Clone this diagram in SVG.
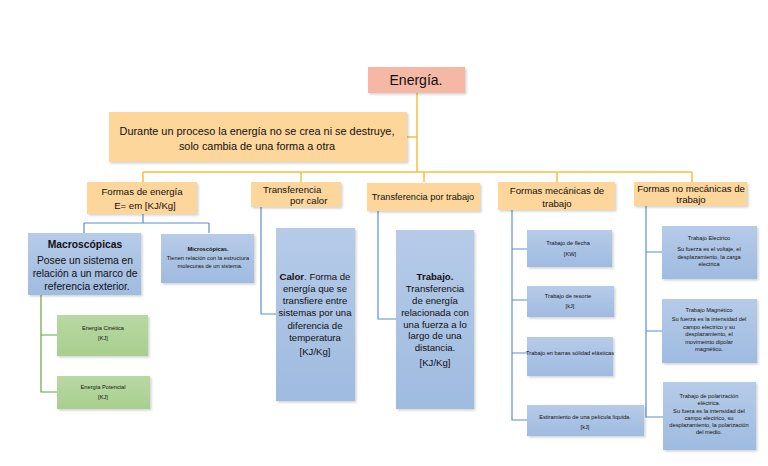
<svg xmlns="http://www.w3.org/2000/svg" width="768" height="466" viewBox="0 0 768 466">
<defs>
<linearGradient id="gb" x1="0" y1="0" x2="0" y2="1"><stop offset="0" stop-color="#b6cbe8"/><stop offset="1" stop-color="#9fbbe0"/></linearGradient>
<linearGradient id="gg" x1="0" y1="0" x2="0" y2="1"><stop offset="0" stop-color="#b9d8a4"/><stop offset="1" stop-color="#a8cf8e"/></linearGradient>
<filter id="sh" x="-10%" y="-10%" width="130%" height="130%"><feDropShadow dx="1.5" dy="1.5" stdDeviation="1.2" flood-color="#000" flood-opacity="0.18"/></filter>
<style>
text{font-family:"Liberation Sans",Arial,sans-serif;fill:#111;text-anchor:middle}
.pk{fill:#f4b8a5;filter:url(#sh)}
.or{fill:#fdd69b;filter:url(#sh)}
.bl{fill:url(#gb);filter:url(#sh)}
.gr{fill:url(#gg);filter:url(#sh)}
.ly{stroke:#f2c043;stroke-width:1.5;fill:none}
.lb{stroke:#5b8ed0;stroke-width:1.2;fill:none}
.lg{stroke:#6aa443;stroke-width:1.2;fill:none}
.t10{font-size:9.6px}
.tm{font-size:10.3px}
.s6{font-size:5.7px}
.b{font-weight:bold}
</style>
</defs>
<rect width="768" height="466" fill="#fff"/>
<g id="connectors">
<path class="ly" d="M417 93V172M407 137H417M143 172H692M143 172V182M301 172V182M424 172V182M557 172V182M692 172V182"/>
<path class="lb" d="M143 214V223M84 223H209M84 223V233M209 223V233"/>
<path class="lg" d="M41 295V392H57M41 335H57"/>
<path class="lb" d="M261 207V314H276"/>
<path class="lb" d="M378 211V319H396"/>
<path class="lb" d="M512 210V420H527M512 249H527M512 300H527M512 353H527"/>
<path class="lb" d="M646 206V417H663M646 252H662M646 331H662"/>
</g>
<g id="energia"><rect class="pk" x="368" y="67" width="97" height="26"/><text x="416" y="85" style="font-size:14px">Energía.</text></g>
<g id="ley"><rect class="or" x="109" y="112" width="298" height="50"/>
<text x="257" y="135" style="font-size:10.9px">Durante un proceso la energía no se crea ni se destruye,</text>
<text x="257" y="150" style="font-size:10.9px">solo cambia de una forma a otra</text></g>
<g id="formas-energia"><rect class="or" x="87" y="182" width="110" height="32"/>
<text class="t10" x="142" y="195">Formas de energía</text><text class="t10" x="145" y="209">E= em [KJ/Kg]</text></g>
<g id="transf-calor"><rect class="or" x="251" y="182" width="90" height="25"/>
<text class="t10" x="263" y="193" style="text-anchor:start">Transferencia</text><text class="t10" x="290" y="204" style="text-anchor:start">por  calor</text></g>
<g id="transf-trabajo"><rect class="or" x="367" y="183" width="113" height="28"/>
<text class="t10" x="423" y="200" style="font-size:9.2px">Transferencia por trabajo</text></g>
<g id="formas-mecanicas"><rect class="or" x="498" y="182" width="117" height="28"/>
<text class="t10" x="557" y="194">Formas mecánicas de</text><text class="t10" x="557" y="207">trabajo</text></g>
<g id="formas-no-mecanicas"><rect class="or" x="634" y="182" width="113" height="24"/>
<text class="t10" x="691" y="192">Formas no mecánicas de</text><text class="t10" x="691" y="203">trabajo</text></g>
<g id="macro"><rect class="bl" x="28" y="233" width="113" height="62"/>
<text x="85" y="248" class="tm b">Macroscópicas</text>
<text x="85" y="264" class="tm">Posee un sistema en</text>
<text x="85" y="277" class="tm">relación a un marco de</text>
<text x="87" y="290" class="tm">referencia exterior.</text></g>
<g id="micro"><rect class="bl" x="161" y="234" width="93" height="49"/>
<text class="s6 b" x="208" y="251">Microscópicas.</text>
<text class="s6" x="208" y="260">Tienen relación con la estructura</text>
<text class="s6" x="210" y="268">molecuras de un sistema.</text></g>
<g id="cinetica"><rect class="gr" x="57" y="315" width="91" height="41"/>
<text class="s6" x="103" y="330">Energía Cinética</text><text class="s6" x="103" y="340">[KJ]</text></g>
<g id="potencial"><rect class="gr" x="57" y="376" width="93" height="33"/>
<text class="s6" x="103" y="389">Energía Potencial</text><text class="s6" x="103" y="399">[KJ]</text></g>
<g id="calor"><rect class="bl" x="276" y="228" width="79" height="173"/>
<text class="t10" x="315" y="280"><tspan class="b">Calor</tspan>. Forma de</text>
<text class="t10" x="315" y="292">energía que se</text>
<text class="t10" x="315" y="304">transfiere entre</text>
<text class="t10" x="315" y="316">sistemas por una</text>
<text class="t10" x="315" y="329">diferencia de</text>
<text class="t10" x="315" y="341">temperatura</text>
<text class="t10" x="315" y="355">[KJ/Kg]</text></g>
<g id="trabajo"><rect class="bl" x="396" y="230" width="78" height="179"/>
<text class="t10 b" x="435" y="280">Trabajo.</text>
<text class="t10" x="435" y="292">Transferencia</text>
<text class="t10" x="435" y="304">de  energía</text>
<text class="t10" x="435" y="316">relacionada con</text>
<text class="t10" x="435" y="328">una fuerza a lo</text>
<text class="t10" x="435" y="339">largo de una</text>
<text class="t10" x="435" y="351">distancia.</text>
<text class="t10" x="435" y="366">[KJ/Kg]</text></g>
<g id="flecha"><rect class="bl" x="527" y="230" width="85" height="37"/>
<text class="s6" x="568" y="245">Trabajo de flecha</text><text class="s6" x="570" y="256">[KW]</text></g>
<g id="resorte"><rect class="bl" x="527" y="286" width="87" height="31"/>
<text class="s6" x="568" y="298">Trabajo de resorte</text><text class="s6" x="570" y="308">[kJ]</text></g>
<g id="barras"><rect class="bl" x="527" y="337" width="86" height="39"/>
<text class="s6" x="570" y="355">Trabajo en barras sólidad elásticas</text></g>
<g id="estiramiento"><rect class="bl" x="527" y="405" width="117" height="31"/>
<text class="s6" x="585" y="419">Estiramiento de una película líquida.</text><text class="s6" x="585" y="429">[kJ]</text></g>
<g id="electrico"><rect class="bl" x="662" y="226" width="95" height="53"/>
<text class="s6" x="709" y="240">Trabajo Electrico</text>
<text class="s6" x="709" y="251">Su fuerza es el voltaje, el</text>
<text class="s6" x="709" y="258.5">desplazamiento, la carga</text>
<text class="s6" x="709" y="266">electrica</text></g>
<g id="magnetico"><rect class="bl" x="662" y="299" width="95" height="64"/>
<text class="s6" x="709" y="312">Trabajo Magnético</text>
<text class="s6" x="709" y="321">Su fuerza es la intensidad del</text>
<text class="s6" x="709" y="328.5">campo electrico y su</text>
<text class="s6" x="709" y="336">desplazamiento, el</text>
<text class="s6" x="709" y="343.5">movimeinto dipolar</text>
<text class="s6" x="709" y="351">magnético.</text></g>
<g id="polarizacion"><rect class="bl" x="663" y="382" width="93" height="68"/>
<text class="s6" x="709" y="398">Trabajo de polarización</text>
<text class="s6" x="709" y="405">eléctrica.</text>
<text class="s6" x="709" y="413">Su fuera es la intensidad del</text>
<text class="s6" x="709" y="420">campo electrico, su</text>
<text class="s6" x="709" y="427">desplazamiento, la polarización</text>
<text class="s6" x="709" y="434">del medio.</text></g>
</svg>
